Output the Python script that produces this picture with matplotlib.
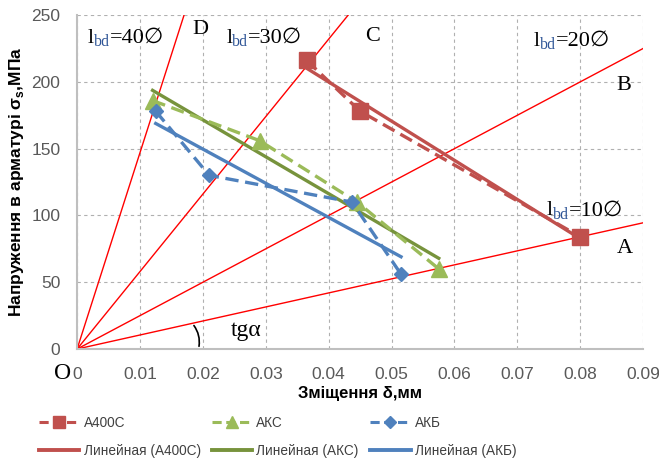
import numpy as np
import matplotlib

matplotlib.use("Agg")
import matplotlib.pyplot as plt  # noqa: E402
from matplotlib.lines import Line2D  # noqa: E402

# measured points (displacement, mm ; stress, MPa)
a400c_x = [0.0365, 0.045, 0.080]
a400c_y = [216, 178, 84]
aks_x = [0.012, 0.029, 0.0445, 0.0575]
aks_y = [186, 156, 110, 60]
akb_x = [0.0125, 0.021, 0.0437, 0.0515]
akb_y = [178, 130, 110, 56]

# rays from origin: slope (MPa per mm), anchor length in diameters
ray_names = ["A", "B", "C", "D"]
ray_slopes = [1050, 2500, 5800, 14700]
ray_lbd = ["10∅", "20∅", "30∅", "40∅"]

RED, GREEN_L, GREEN_D, BLUE = "#C0504D", "#9BBB59", "#77933C", "#4F81BD"
SERIF = ["Liberation Serif", "DejaVu Serif", "DejaVu Sans"]

plt.rcParams["font.family"] = ["Liberation Sans", "DejaVu Sans"]

fig = plt.figure(figsize=(6.59, 4.70), dpi=100)
ax = fig.add_axes([0.117, 0.2574, 0.859, 0.7106])

ax.set_xlim(0, 0.09)
ax.set_ylim(0, 250)
ax.set_xticks(np.arange(0, 0.0901, 0.01))
ax.set_xticklabels(["0"] + [f"{v:.2f}" for v in np.arange(0.01, 0.0901, 0.01)])
ax.set_yticks(range(0, 251, 50))
ax.grid(True, color="#b0b0b0", ls=(0, (3, 3)), lw=0.8)
ax.set_axisbelow(True)
for s in ["top", "right"]:
    ax.spines[s].set_visible(False)
for s in ["left", "bottom"]:
    ax.spines[s].set_color("#bfbfbf")
    ax.spines[s].set_linewidth(1.5)
ax.tick_params(length=0, labelsize=12.5, labelcolor="#595959")
ax.tick_params(axis="x", pad=13)
ax.tick_params(axis="y", pad=12)

# rays
xr = np.array([0, 0.09])
for k in ray_slopes:
    ax.plot(xr, k * xr, color="red", lw=1.0, zorder=2)

# data series
ax.plot(a400c_x, a400c_y, color=RED, ls=(0, (4, 2)), lw=2.4, marker="s", ms=11, zorder=4)
ax.plot(aks_x, aks_y, color=GREEN_L, ls=(0, (4, 2)), lw=2.4, marker="^", ms=11, zorder=4)
ax.plot(akb_x, akb_y, color=BLUE, ls=(0, (4, 2)), lw=2.4, marker="D", ms=7.5, zorder=4)

# linear trends
for xs, ys, c in [(a400c_x, a400c_y, RED), (aks_x, aks_y, GREEN_D), (akb_x, akb_y, BLUE)]:
    p = np.polyfit(xs, ys, 1)
    xt = np.array([min(xs), max(xs)])
    ax.plot(xt, np.polyval(p, xt), color=c, lw=2.4, zorder=3)


def lbd_label(x, y, value):
    t1 = ax.text(x, y, "l", family=SERIF, fontsize=16, va="baseline")
    t2 = ax.annotate("bd", xy=(1, 0), xycoords=t1, xytext=(0, -1.5), textcoords="offset points",
                     family=SERIF, fontsize=11.5, color="#2F5597", va="bottom")
    ax.annotate("=" + value, xy=(1, 0), xycoords=(t2, t1), family=SERIF, fontsize=16,
                va="bottom")


tk = dict(family=SERIF, fontsize=16, color="black")
lbd_label(0.0017, 229, ray_lbd[3])
ax.text(0.0183, 239, ray_names[3], va="center", **tk)
lbd_label(0.0237, 229, ray_lbd[2])
ax.text(0.0458, 234, ray_names[2], va="center", **tk)
lbd_label(0.0726, 227, ray_lbd[1])
ax.text(0.0858, 197, ray_names[1], va="center", **tk)
lbd_label(0.0746, 100, ray_lbd[0])
ax.text(0.0858, 75, ray_names[0], va="center", **tk)
ax.text(0.0245, 14, "tgα", va="center", family=SERIF, fontsize=17)
ax.text(-0.0037, -18, "O", va="center", clip_on=False, family=SERIF, fontsize=17)
ax.annotate("", xy=(0.0183, ray_slopes[0] * 0.0183), xytext=(0.0193, 0),
            arrowprops=dict(arrowstyle="-", color="black", lw=1.2,
                            connectionstyle="arc3,rad=0.25"))

ax.set_xlabel("Зміщення δ,мм", fontweight="bold", fontsize=12, labelpad=3)
ax.set_ylabel("Напруження в арматурі σ$_\\mathregular{s}$,МПа", fontweight="bold",
              fontsize=12.5, labelpad=4)

handles = [
    Line2D([], [], color=RED, ls=(0, (3, 1.5)), lw=2.2, marker="s", ms=8),
    Line2D([], [], color=RED, lw=2.8),
    Line2D([], [], color=GREEN_L, ls=(0, (3, 1.5)), lw=2.2, marker="^", ms=8),
    Line2D([], [], color=GREEN_D, lw=2.8),
    Line2D([], [], color=BLUE, ls=(0, (3, 1.5)), lw=2.2, marker="D", ms=6),
    Line2D([], [], color=BLUE, lw=2.8),
]
labels = ["А400С", "Линейная (А400С)", "АКС", "Линейная (АКС)", "АКБ", "Линейная (АКБ)"]
fig.legend(handles, labels, ncol=3, loc="lower left", bbox_to_anchor=(0.04, 0.0),
           frameon=False, fontsize=9.8, handlelength=3.0, columnspacing=0.8,
           labelspacing=1.0, handletextpad=0.3, labelcolor="#404040")

fig.savefig("out.png", dpi=100)
